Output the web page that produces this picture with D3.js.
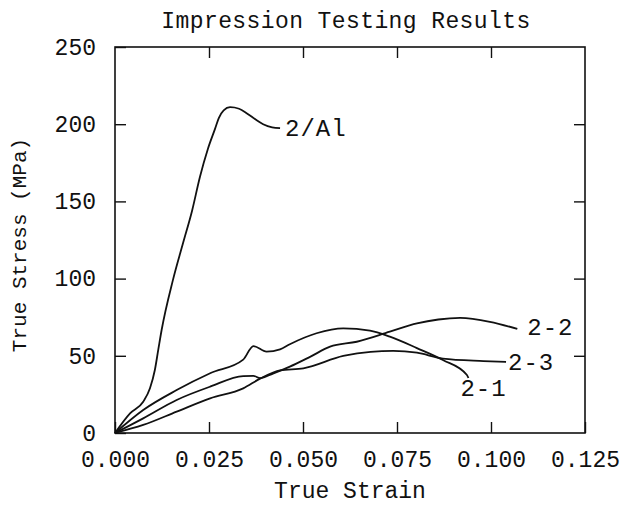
<!DOCTYPE html>
<html>
<head>
<meta charset="utf-8">
<script src="https://cdn.jsdelivr.net/npm/d3@7"></script>
<style>
  body { margin: 0; background: #fff; }
  text { font-family: "Liberation Mono", monospace; fill: #111; }
</style>
</head>
<body>
<div id="chart"></div>
<script>
const WIDTH = 622;
const HEIGHT = 506;
const MARGIN = { TOP: 47, BOTTOM: 73, LEFT: 115, RIGHT: 37 };

const width = WIDTH - MARGIN.LEFT - MARGIN.RIGHT;
const height = HEIGHT - MARGIN.TOP - MARGIN.BOTTOM;

// values: [true strain, true stress MPa]
const seriesNames = ['2/Al', '2-2', '2-3', '2-1'];

const curveAl = [
  [0, 0], [0.0040, 12.7], [0.0075, 20.3], [0.0093, 29], [0.0106, 40.8],
  [0.0115, 53.8], [0.0124, 66.7], [0.0154, 99], [0.0181, 123], [0.0205, 144],
  [0.0226, 166], [0.0247, 184], [0.0266, 197], [0.0276, 204], [0.0289, 209],
  [0.0306, 211], [0.0330, 210], [0.0351, 207], [0.0374, 203], [0.0394, 200],
  [0.0418, 198], [0.0439, 197.5]
];

const curve22 = [
  [0, 0], [0.0075, 9.5], [0.0164, 21.4], [0.0253, 30], [0.0341, 36.9],
  [0.0368, 37], [0.0386, 35.6], [0.0420, 38.5], [0.0465, 43], [0.0520, 49.5],
  [0.0572, 55.9], [0.0643, 59.1], [0.0731, 65.6], [0.0803, 71], [0.0860, 73.5],
  [0.0918, 74.5], [0.0997, 72], [0.1070, 67.4]
];

const curve23 = [
  [0, 0], [0.0075, 5.2], [0.0164, 13.8], [0.0253, 22.4], [0.0341, 28.9],
  [0.0386, 35.2], [0.0439, 40.6], [0.0501, 41.9], [0.0607, 49.9], [0.0680, 52.6],
  [0.0740, 53.2], [0.0803, 52], [0.0872, 48.2], [0.0980, 46.6], [0.1040, 46]
];

const curve21 = [
  [0, 0], [0.0075, 14.9], [0.0164, 27.8], [0.0253, 38.7], [0.0341, 47.5],
  [0.0368, 56.3], [0.0403, 52.7], [0.0439, 54.2], [0.0465, 57.5], [0.0536, 64.6],
  [0.0607, 67.8], [0.0678, 66.3], [0.0731, 62.4], [0.0803, 55], [0.0872, 47.3],
  [0.0936, 37.6], [0.0940, 35.6]
];

const xTicks = [0, 0.025, 0.05, 0.075, 0.1, 0.125];
const yTicks = [0, 50, 100, 150, 200, 250];

// label offsets from each curve's last point, in pixels
const labelOffsets = [[5, 8], [10, 6], [2, 8], [-8, 18]];

const svg = d3.select('#chart')
  .append('svg')
    .attr('width', WIDTH)
    .attr('height', HEIGHT);

const container = svg.append('g')
    .attr('transform', `translate(${MARGIN.LEFT}, ${MARGIN.TOP})`);

const x = d3.scaleLinear().domain([0, 0.125]).range([0, width]);
const y = d3.scaleLinear().domain([0, 250]).range([height, 0]);

const fmtX = d3.format('.3f');

const styleAxis = g => {
    g.select('.domain').remove();
    g.selectAll('.tick line').attr('stroke', '#111').attr('stroke-width', 1.4);
    g.selectAll('.tick text')
     .style('font-family', '"Liberation Mono", monospace')
     .style('font-size', '23px')
     .attr('fill', '#111');
};

container.append('g')
    .attr('transform', `translate(0, ${height})`)
    .call(d3.axisBottom(x).tickValues(xTicks).tickFormat(fmtX).tickSize(-11).tickPadding(13))
    .call(styleAxis)
    .call(g => g.selectAll('.tick text').attr('dy', '0.9em'));

container.append('g')
    .call(d3.axisLeft(y).tickValues(yTicks).tickSize(-11).tickPadding(19))
    .call(styleAxis);

container.append('g')
    .call(d3.axisTop(x).tickValues(xTicks.slice(1, -1)).tickFormat('').tickSize(-11))
    .call(styleAxis);

container.append('g')
    .attr('transform', `translate(${width}, 0)`)
    .call(d3.axisRight(y).tickValues(yTicks.slice(1, -1)).tickFormat('').tickSize(-11))
    .call(styleAxis);

container.append('rect')
    .attr('width', width)
    .attr('height', height)
    .attr('fill', 'none')
    .attr('stroke', '#111')
    .attr('stroke-width', 1.6);

const line = d3.line()
    .x(d => x(d[0]))
    .y(d => y(d[1]))
    .curve(d3.curveMonotoneX);

const curves = [curveAl, curve22, curve23, curve21];

container.selectAll('.curve')
    .data(curves)
    .enter()
    .append('path')
    .attr('class', 'curve')
    .attr('d', line)
    .attr('fill', 'none')
    .attr('stroke', '#111')
    .attr('stroke-width', 1.8);

container.selectAll('.curve-label')
    .data(curves)
    .enter()
    .append('text')
    .attr('class', 'curve-label')
    .attr('x', (c, i) => x(c[c.length - 1][0]) + labelOffsets[i][0])
    .attr('y', (c, i) => y(c[c.length - 1][1]) + labelOffsets[i][1])
    .style('font-size', '24px')
    .style('letter-spacing', '1px')
    .text((c, i) => seriesNames[i]);

svg.append('text')
    .attr('x', 346)
    .attr('y', 28)
    .attr('text-anchor', 'middle')
    .style('font-size', '23px')
    .style('letter-spacing', '0.4px')
    .text('Impression Testing Results');

svg.append('text')
    .attr('x', MARGIN.LEFT + width / 2)
    .attr('y', 498)
    .attr('text-anchor', 'middle')
    .style('font-size', '23px')
    .text('True Strain');

svg.append('text')
    .attr('transform', `translate(26, ${MARGIN.TOP + height / 2 + 5}) rotate(-90)`)
    .attr('text-anchor', 'middle')
    .style('font-size', '21px')
    .text('True Stress (MPa)');
</script>
</body>
</html>
